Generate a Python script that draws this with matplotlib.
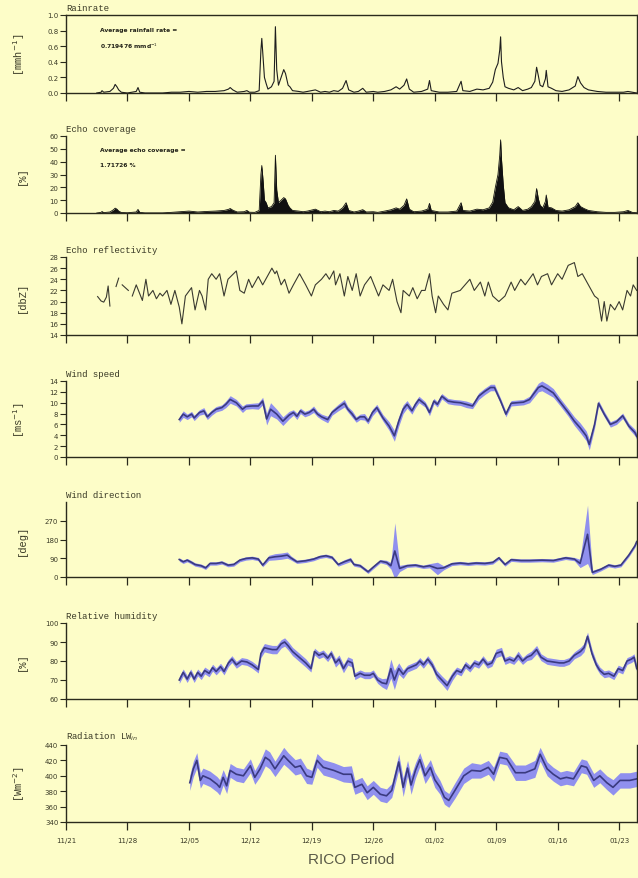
import numpy as np
import matplotlib
matplotlib.use("Agg")
import matplotlib.pyplot as plt

# eje x: dias desde el 21 de noviembre
week_ticks = [0, 7, 14, 21, 28, 35, 42, 49, 56, 63]
week_labels = ['11/21', '11/28', '12/05', '12/12', '12/19', '12/26',
               '01/02', '01/09', '01/16', '01/23']

# radar: tasa de lluvia y cobertura de ecos
radar_t = [3.5, 4.0, 4.1, 4.3, 5.0, 5.4, 5.6, 5.8, 6.0, 6.3,
           7.0, 8.0, 8.2, 8.4, 9.0, 11.0, 12.0, 13.0, 14.0, 15.0,
           16.0, 17.0, 18.0, 18.5, 18.7, 19.0, 19.5, 20.3, 20.6, 20.9,
           21.5, 22.0, 22.2, 22.3, 22.45, 22.6, 22.8, 23.0, 23.4, 23.7,
           23.85, 24.0, 24.2, 24.5, 24.8, 25.0, 25.3, 25.5, 25.8, 26.5,
           27.0, 27.5, 28.4, 29.0, 29.5, 30.0, 30.5, 31.0, 31.5, 31.9,
           32.2, 32.8, 33.3, 33.8, 34.2, 35.0, 35.5, 36.3, 37.0, 37.6,
           38.0, 38.5, 38.8, 39.1, 39.6, 40.5, 41.2, 41.4, 41.6, 42.5,
           43.5, 44.5, 45.0, 45.2, 46.0, 46.8, 47.5, 48.2, 48.6, 48.9,
           49.2, 49.4, 49.5, 49.6, 49.8, 50.0, 50.4, 51.0, 51.5, 52.0,
           52.6, 53.0, 53.4, 53.6, 53.8, 54.0, 54.3, 54.6, 54.7, 54.9,
           55.3, 55.8, 56.5, 57.3, 58.0, 58.3, 58.6, 59.0, 59.5, 60.5,
           61.5, 62.5, 63.5, 64.0, 64.5, 65.0]
rain_v = [0.0, 0.01, 0.03, 0.01, 0.02, 0.06, 0.11, 0.08, 0.04, 0.01,
          0.0, 0.02, 0.07, 0.01, 0.0, 0.0, 0.01, 0.01, 0.02, 0.01,
          0.02, 0.02, 0.03, 0.05, 0.07, 0.04, 0.01, 0.02, 0.03, 0.01,
          0.01, 0.03, 0.55, 0.70, 0.45, 0.20, 0.12, 0.05, 0.08, 0.15,
          0.85, 0.30, 0.10, 0.20, 0.30, 0.25, 0.10, 0.08, 0.03, 0.02,
          0.01, 0.02, 0.04, 0.01, 0.02, 0.01, 0.03, 0.02, 0.06, 0.16,
          0.04, 0.01, 0.02, 0.06, 0.01, 0.02, 0.01, 0.02, 0.04, 0.08,
          0.05, 0.10, 0.18, 0.05, 0.01, 0.02, 0.05, 0.16, 0.03, 0.01,
          0.01, 0.02, 0.15, 0.03, 0.02, 0.05, 0.04, 0.06, 0.14, 0.30,
          0.38, 0.55, 0.72, 0.40, 0.20, 0.08, 0.06, 0.04, 0.07, 0.03,
          0.05, 0.07, 0.15, 0.33, 0.22, 0.10, 0.08, 0.18, 0.29, 0.08,
          0.06, 0.03, 0.02, 0.04, 0.09, 0.21, 0.13, 0.07, 0.04, 0.02,
          0.01, 0.01, 0.01, 0.02, 0.01, 0.0]
echo_v = [0.0, 0.5, 1.2, 0.3, 0.8, 2.5, 3.8, 3.0, 1.5, 0.4,
          0.2, 0.8, 2.8, 0.5, 0.1, 0.1, 0.5, 1.0, 1.5, 0.8,
          1.2, 1.5, 2.0, 2.8, 3.5, 2.2, 0.8, 1.0, 2.0, 0.6,
          0.5, 2.0, 30, 37, 25, 10, 8, 4, 5, 8,
          45, 18, 8, 10, 12, 11, 6, 4, 2, 1.5,
          1.0, 1.5, 3, 1, 1.5, 1, 2, 1.5, 4, 8,
          2, 0.8, 1.5, 2.6, 0.8, 1.0, 0.5, 1.5, 2.5, 4,
          3, 6, 11, 3, 1, 1.5, 3, 7.5, 2, 0.8,
          0.8, 1.5, 8, 2, 1.5, 3, 2.5, 4, 8.5, 20,
          30, 45, 57, 42, 22, 8, 4, 2.5, 5, 2,
          3, 5, 9, 19, 11, 6, 4, 9, 14, 4.5,
          4, 2, 1.5, 2.5, 5, 8, 5, 3.5, 2, 1,
          0.5, 0.5, 1, 2, 0.5, 0.2]

# reflectividad (nan = huecos)
nan = np.nan
refl_t = [3.6, 4.0, 4.3, 4.6, 4.8, 5.0, 5.3, 5.7, 6.0, 6.2,
          6.4, 7.1, 7.3, 7.55, 8.0, 8.7, 9.1, 9.4, 9.9, 10.3,
          10.7, 11.0, 11.5, 11.95, 12.4, 12.9, 13.2, 13.6, 14.3, 14.7,
          15.2, 15.5, 15.9, 16.2, 16.6, 17.1, 17.5, 18.0, 18.45, 19.4,
          19.8, 20.3, 20.8, 21.2, 21.9, 22.4, 23.45, 23.8, 24.0, 24.5,
          24.9, 25.4, 25.9, 26.6, 27.3, 27.95, 28.4, 29.1, 29.6, 30.0,
          30.5, 30.7, 31.2, 31.7, 32.1, 32.6, 33.05, 33.5, 34.0, 34.7,
          35.6, 36.1, 36.8, 37.2, 37.7, 38.15, 38.4, 39.1, 39.5, 40.0,
          40.5, 40.9, 41.4, 41.7, 42.1, 42.4, 43.0, 43.5, 43.95, 44.9,
          46.0, 46.5, 47.2, 47.7, 48.1, 48.6, 49.3, 50.0, 50.7, 51.1,
          51.8, 52.3, 53.2, 53.7, 54.15, 54.85, 55.3, 56.0, 56.5, 57.2,
          57.9, 58.3, 58.8, 59.5, 60.2, 60.6, 61.0, 61.3, 61.6, 62.0,
          62.5, 63.0, 63.4, 63.9, 64.3, 64.6, 65.0]
refl_v = [20.9, 20.1, 19.9, 20.8, 22.8, 19.2, nan, 22.7, 24.2, nan,
          23.0, 22.0, nan, 21.0, 23.0, 20.2, 24.0, 21.0, 22.0, 20.5,
          21.5, 21.0, 22.0, 19.5, 22.0, 19.0, 16.0, 21.0, 22.5, 18.5,
          22.0, 21.0, 18.5, 24.0, 25.0, 24.0, 25.0, 21.0, 24.0, 25.5,
          22.0, 21.5, 24.0, 22.5, 24.5, 23.0, 26.0, 25.0, 25.5, 23.0,
          24.0, 21.5, 23.0, 25.0, 23.0, 21.0, 23.0, 24.0, 25.0, 24.0,
          25.5, 23.0, 25.0, 21.0, 24.5, 22.0, 25.0, 21.0, 23.0, 24.5,
          21.0, 23.0, 22.0, 24.0, 20.0, 18.0, 22.0, 21.0, 22.5, 20.5,
          22.0, 22.0, 25.0, 21.0, 18.0, 21.0, 19.5, 18.5, 21.5, 22.0,
          24.0, 22.0, 23.5, 21.0, 23.5, 21.0, 20.0, 21.0, 23.5, 22.0,
          24.0, 23.0, 25.0, 23.0, 24.5, 25.0, 23.0, 25.0, 24.0, 26.5,
          27.0, 24.5, 25.0, 23.0, 21.0, 20.5, 16.5, 20.0, 16.5, 19.5,
          18.5, 20.0, 18.5, 22.0, 21.0, 23.0, 22.0]

# velocidad del viento
wspd_t = [12.9, 13.35, 13.8, 14.3, 14.6, 15.2, 15.7, 16.1, 16.6, 17.1,
          17.75, 18.2, 18.7, 19.4, 20.1, 20.5, 21.2, 21.9, 22.4, 22.85,
          23.3, 24.0, 24.7, 25.4, 25.9, 26.3, 26.7, 27.2, 27.7, 28.2,
          28.65, 29.1, 29.8, 30.3, 31.0, 31.7, 32.1, 32.6, 33.05, 33.5,
          34.0, 34.4, 34.9, 35.4, 36.1, 36.8, 37.4, 37.9, 38.4, 38.85,
          39.4, 39.8, 40.2, 40.9, 41.4, 41.9, 42.3, 42.8, 43.5, 44.2,
          44.9, 45.6, 46.3, 47.0, 47.7, 48.35, 48.8, 49.5, 50.1, 50.7,
          51.4, 52.1, 52.8, 53.2, 53.8, 54.2, 54.85, 55.5, 56.2, 57.2,
          57.9, 58.55, 59.25, 59.6, 60.2, 60.65, 61.3, 62.0, 62.7, 63.4,
          64.1, 64.8, 65.0]
wspd_v = [6.9, 7.9, 7.4, 7.9, 7.2, 8.2, 8.5, 7.4, 8.2, 8.8,
          9.1, 9.7, 10.6, 10.0, 8.8, 9.3, 9.4, 9.4, 10.3, 7.0,
          8.8, 7.9, 6.6, 7.7, 8.2, 7.5, 8.5, 7.9, 8.2, 8.8,
          7.9, 7.4, 6.9, 8.2, 9.1, 9.9, 8.8, 7.9, 6.9, 7.4,
          7.4, 6.6, 8.2, 9.1, 7.2, 5.7, 3.9, 6.6, 8.8, 9.7,
          8.5, 9.7, 10.6, 9.7, 8.2, 10.3, 9.7, 11.2, 10.3, 10.1,
          10.0, 9.7, 9.4, 11.2, 12.1, 12.8, 12.8, 10.3, 7.9, 9.9,
          10.0, 10.1, 10.6, 11.5, 12.8, 13.1, 12.5, 11.8, 10.3, 8.2,
          6.6, 5.4, 3.9, 2.3, 6.0, 9.9, 7.9, 6.0, 6.5, 7.6,
          5.7, 4.5, 3.8]
wspd_e = [0.5, 0.6, 0.5, 0.5, 0.5, 0.5, 0.6, 0.5, 0.5, 0.5,
          0.5, 0.6, 0.7, 0.6, 0.6, 0.5, 0.5, 0.6, 0.7, 1.1,
          1.2, 0.9, 0.8, 0.7, 0.5, 0.6, 0.5, 0.5, 0.5, 0.6,
          0.5, 0.5, 0.6, 0.5, 0.6, 0.7, 0.5, 0.6, 0.5, 0.5,
          0.6, 0.5, 0.6, 0.6, 0.6, 0.8, 1.0, 0.9, 0.8, 0.7,
          0.6, 0.6, 0.6, 0.5, 0.6, 0.5, 0.5, 0.5, 0.5, 0.5,
          0.5, 0.6, 0.5, 0.6, 0.6, 0.6, 0.6, 0.5, 0.5, 0.5,
          0.5, 0.5, 0.6, 0.7, 0.8, 0.9, 0.9, 0.8, 0.7, 0.7,
          0.8, 0.9, 0.9, 1.0, 0.7, 0.5, 0.5, 0.5, 0.5, 0.5,
          0.5, 0.6, 0.6]

# direccion del viento
wdir_t = [12.9, 13.35, 13.8, 14.3, 14.7, 15.4, 15.9, 16.4, 17.1, 17.75,
          18.45, 19.1, 19.8, 20.5, 21.2, 21.9, 22.4, 23.1, 23.8, 24.5,
          25.2, 25.6, 26.3, 27.3, 28.2, 28.9, 29.6, 30.3, 31.0, 31.7,
          32.4, 32.8, 33.5, 34.4, 34.9, 35.8, 36.5, 37.0, 37.45, 38.0,
          38.85, 39.8, 40.7, 41.4, 42.3, 43.0, 43.95, 44.9, 45.8, 46.7,
          47.7, 48.6, 49.3, 50.0, 50.7, 51.8, 52.8, 54.2, 55.5, 56.9,
          57.9, 58.55, 59.4, 59.95, 60.9, 61.8, 62.5, 63.2, 64.1, 64.8,
          65.0]
wdir_v = [84, 73, 81, 70, 60, 54, 44, 65, 65, 70,
          57, 60, 81, 89, 92, 86, 57, 92, 97, 100,
          105, 92, 73, 78, 86, 97, 102, 94, 60, 73,
          84, 60, 54, 25, 44, 76, 70, 54, 125, 41,
          54, 57, 49, 54, 41, 44, 63, 67, 63, 67,
          65, 70, 92, 60, 83, 79, 79, 81, 79, 92,
          86, 65, 205, 22, 37, 57, 51, 57, 105, 150,
          170]
wdir_e = [8, 8, 8, 8, 8, 8, 8, 8, 8, 8,
          8, 8, 8, 8, 8, 8, 8, 12, 15, 15,
          15, 10, 8, 8, 8, 8, 8, 8, 8, 10,
          10, 8, 8, 8, 8, 8, 10, 15, 135, 15,
          8, 8, 8, 10, 30, 10, 8, 8, 8, 8,
          8, 8, 8, 8, 8, 8, 8, 8, 8, 8,
          8, 20, 140, 10, 8, 8, 8, 8, 8, 8,
          8]

# humedad relativa
rh_t = [12.9, 13.35, 13.8, 14.2, 14.6, 15.0, 15.4, 15.8, 16.3, 16.7,
        17.1, 17.6, 18.0, 18.5, 18.9, 19.4, 20.0, 20.6, 21.2, 21.9,
        22.2, 22.6, 23.0, 23.5, 24.0, 24.5, 24.9, 25.3, 25.8, 26.3,
        26.8, 27.3, 27.9, 28.3, 28.8, 29.3, 29.8, 30.2, 30.7, 31.1,
        31.6, 32.1, 32.6, 32.9, 33.5, 34.0, 34.6, 35.0, 35.5, 36.0,
        36.5, 37.0, 37.4, 37.9, 38.4, 38.9, 39.4, 39.9, 40.3, 40.7,
        41.2, 41.7, 42.2, 42.8, 43.4, 44.0, 44.5, 45.0, 45.5, 46.0,
        46.5, 47.0, 47.5, 48.0, 48.5, 49.0, 49.6, 50.0, 50.5, 51.0,
        51.5, 52.0, 52.5, 53.0, 53.6, 54.1, 54.8, 55.5, 56.2, 56.7,
        57.3, 57.9, 58.6, 59.0, 59.4, 59.9, 60.4, 60.8, 61.3, 61.8,
        62.4, 62.9, 63.4, 63.9, 64.4, 64.7, 65.0]
rh_v = [70, 74, 70.5, 74, 70.5, 74, 72, 75, 73.5, 76.5,
        74.5, 77, 74.5, 79, 81, 78, 80, 79.5, 78, 75.5,
        84, 87, 86.5, 86, 86, 89, 90, 88, 85, 83,
        81, 79, 76, 85, 83, 84, 81.5, 84, 79, 81,
        76, 80, 79, 72, 73.5, 72.5, 72.5, 73.5, 70, 68.5,
        68, 76, 70, 76, 73, 76, 77, 78, 80, 78,
        81, 78, 73, 70, 67, 72, 75, 74, 78, 76,
        79, 78, 81, 78, 79, 84, 85, 80, 81, 80,
        83, 80, 82, 83, 86, 82, 80, 79.5, 79, 79,
        80, 83, 85, 87, 93, 84, 78, 75, 73, 73.5,
        72, 76, 75, 80, 81, 82, 76]
rh_e = [1.8, 1.8, 1.8, 1.8, 1.8, 1.8, 1.8, 1.8, 1.8, 1.8,
        1.8, 1.8, 1.8, 1.8, 1.8, 1.8, 1.8, 1.8, 1.8, 1.8,
        2.2, 2.2, 2.2, 2.2, 2.2, 2.2, 2.2, 2.2, 2.2, 2.2,
        2.2, 2.2, 1.8, 1.8, 1.8, 1.8, 1.8, 1.8, 2.2, 2.2,
        2.2, 2.2, 2.2, 1.8, 1.8, 1.8, 1.8, 1.8, 1.8, 2.2,
        3, 5, 5, 3, 2.2, 1.8, 1.8, 1.8, 1.8, 1.8,
        1.8, 1.8, 2.2, 2.2, 2.5, 2.2, 1.8, 1.8, 1.8, 1.8,
        1.8, 1.8, 1.8, 1.8, 1.8, 2.2, 2.2, 1.8, 1.8, 1.8,
        2.2, 1.8, 1.8, 2.2, 2.2, 1.8, 1.8, 1.8, 1.8, 1.8,
        1.8, 1.8, 2.2, 2.2, 2.2, 2.2, 1.8, 1.8, 1.8, 1.8,
        1.8, 1.8, 1.8, 1.8, 1.8, 1.8, 1.8]

# radiacion de onda larga entrante
lw_t = [14.1, 14.5, 14.9, 15.3, 15.6, 16.4, 17.2, 17.5, 17.9, 18.3,
        18.7, 19.4, 20.2, 21.0, 21.5, 22.1, 22.7, 23.2, 23.8, 24.8,
        25.3, 26.1, 26.7, 27.4, 28.0, 28.6, 29.3, 30.5, 31.6, 32.5,
        32.9, 33.7, 34.3, 35.0, 35.8, 36.5, 37.1, 37.9, 38.4, 38.9,
        39.3, 39.8, 40.3, 40.9, 41.5, 42.0, 42.6, 43.1, 43.6, 44.3,
        45.3, 46.2, 47.2, 48.1, 48.7, 49.4, 50.2, 51.2, 52.3, 53.4,
        54.0, 54.8, 55.5, 56.3, 57.0, 57.8, 58.7, 59.3, 60.1, 60.8,
        61.6, 62.3, 63.1, 64.2, 65.0]
lw_v = [391, 409, 420, 394, 400, 396, 389, 385, 398, 387,
        407, 402, 400, 413, 398, 409, 424, 420, 409, 426,
        420, 411, 413, 400, 398, 420, 411, 407, 402, 402,
        385, 389, 378, 385, 376, 374, 381, 418, 385, 410,
        388, 407, 421, 400, 411, 395, 385, 372, 368, 381,
        400, 407, 406, 411, 402, 424, 422, 404, 404, 409,
        428, 409, 402, 396, 398, 396, 413, 411, 394, 400,
        391, 385, 394, 394, 396]
lw_e = [10, 10, 10, 10, 10, 10, 10, 10, 10, 10,
        9, 9, 9, 9, 9, 10, 11, 11, 10, 11,
        10, 10, 10, 10, 9, 9, 10, 10, 10, 11,
        9, 9, 9, 9, 9, 9, 9, 10, 12, 10,
        12, 10, 9, 10, 10, 10, 9, 9, 9, 10,
        10, 10, 9, 9, 9, 8, 8, 10, 10, 11,
        9, 9, 9, 9, 9, 9, 9, 9, 9, 9,
        9, 10, 10, 10, 10]

titles = ['Rainrate', 'Echo coverage', 'Echo reflectivity', 'Wind speed',
          'Wind direction', 'Relative humidity', 'Radiation LW$_{in}$']
units = ['[mmh$^{-1}$]', '[%]', '[dbZ]', '[ms$^{-1}$]', '[deg]', '[%]',
         '[Wm$^{-2}$]']

bg = '#fdfdc8'
ink = '#3a3a26'
line_col = '#3a3a80'
band_col = '#9090ee'
mono = 'Liberation Mono'

fig = plt.figure(figsize=(6.38, 8.79), dpi=100, facecolor=bg)
W, H = 638.0, 879.0
bottoms = [94, 214, 336, 458, 578, 700, 823]
tops = [16, 137, 258, 382, 503, 624, 746]

axes = []
for i, (b, t) in enumerate(zip(bottoms, tops)):
    ax = fig.add_axes([66 / W, 1 - b / H, (636.7 - 66) / W, (b - t) / H])
    ax.set_facecolor(bg)
    ax.set_xlim(0, 65)
    ax.set_xticks(week_ticks)
    ax.set_xticklabels([])
    for s in ax.spines.values():
        s.set_color('#2a2a1c')
        s.set_linewidth(1.0)
    if i > 0:
        ax.spines['top'].set_visible(False)
    ax.tick_params(axis='x', direction='out', length=6, width=0.9,
                   colors='#2a2a1c')
    ax.tick_params(axis='y', direction='out', length=4, width=0.8,
                   colors='#2a2a1c', labelsize=5, labelcolor=ink, pad=1.5)
    ax.text(0.0, 1.04, titles[i], transform=ax.transAxes, fontsize=6.5,
            family=mono, color=ink, ha='left', va='bottom')
    ax.set_ylabel(units[i], fontsize=7.5, family=mono, color=ink)
    ax.yaxis.set_label_coords(-0.068, 0.5)
    axes.append(ax)

# Rainrate
ax = axes[0]
ax.plot(radar_t, rain_v, color='#1e1e1e', lw=0.8)
ax.set_ylim(0, 1.0)
ax.set_yticks(np.arange(0, 1.01, 0.2))
ax.set_yticklabels(['%.1f' % v for v in np.arange(0, 1.01, 0.2)])
ax.text(0.06, 0.80, 'Average rainfall rate =', transform=ax.transAxes,
        fontsize=4.3, fontweight='bold', color='#222218')
ax.text(0.06, 0.58, '0.719476 mmd$^{-1}$', transform=ax.transAxes,
        fontsize=4.3, fontweight='bold', color='#222218')

# Echo coverage
ax = axes[1]
ax.fill_between(radar_t, echo_v, 0, color='#111111', lw=0)
ax.plot(radar_t, echo_v, color='#111111', lw=0.6)
ax.set_ylim(0, 60)
ax.set_yticks(range(0, 61, 10))
ax.text(0.06, 0.80, 'Average echo coverage =', transform=ax.transAxes,
        fontsize=4.3, fontweight='bold', color='#222218')
ax.text(0.06, 0.61, '1.71726 %', transform=ax.transAxes,
        fontsize=4.3, fontweight='bold', color='#222218')

# Echo reflectivity
ax = axes[2]
ax.plot(refl_t, refl_v, color='#3a3a30', lw=0.8)
ax.set_ylim(14, 28)
ax.set_yticks(range(14, 29, 2))


def band(ax, t, v, e):
    v = np.array(v, dtype=float)
    e = np.array(e, dtype=float)
    ax.fill_between(t, v - e, v + e, color=band_col, lw=0)
    ax.plot(t, v, color=line_col, lw=1.2)


# Wind speed
ax = axes[3]
band(ax, wspd_t, wspd_v, wspd_e)
ax.set_ylim(0, 14)
ax.set_yticks(range(0, 15, 2))

# Wind direction
ax = axes[4]
band(ax, wdir_t, wdir_v, wdir_e)
ax.set_ylim(0, 360)
ax.set_yticks([0, 90, 180, 270])

# Relative humidity
ax = axes[5]
band(ax, rh_t, rh_v, rh_e)
ax.set_ylim(60, 100)
ax.set_yticks(range(60, 101, 10))

# Radiation LW
ax = axes[6]
band(ax, lw_t, lw_v, lw_e)
ax.set_ylim(340, 440)
ax.set_yticks(range(340, 441, 20))
ax.set_xticklabels(week_labels, fontsize=5, color=ink)
ax.tick_params(axis='x', pad=5)
ax.set_xlabel('RICO Period', fontsize=11, family='Liberation Sans',
              color='#5a5a48', labelpad=6)

fig.savefig('out.png', dpi=100, facecolor=bg)
